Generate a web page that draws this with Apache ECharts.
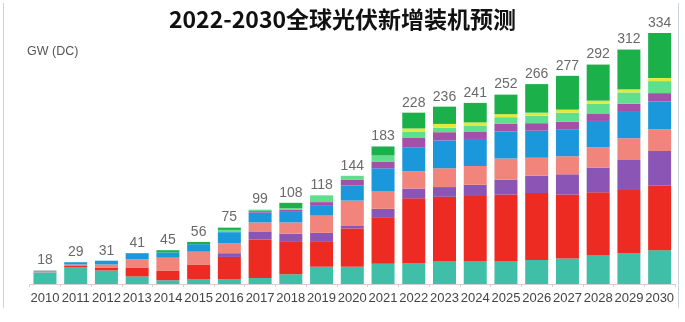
<!DOCTYPE html>
<html>
<head>
<meta charset="utf-8">
<script src="https://cdn.jsdelivr.net/npm/echarts@6/dist/echarts.min.js"></script>
<style>html,body{margin:0;padding:0;background:#fff}#c{width:685px;height:322px}</style>
</head>
<body>
<div id="c"></div>
<script>
var years = ['2010','2011','2012','2013','2014','2015','2016','2017','2018','2019','2020','2021','2022','2023','2024','2025','2026','2027','2028','2029','2030'];
var totals = [18,29,31,41,45,56,75,99,108,118,144,183,228,236,241,252,266,277,292,312,334];
var teal      = [15,22,18,10,5,6,6,8,13,23,23,27,28,30,30,30,32,34,38,41,45];
var red       = [0,2,4,12,13,20,30,51,43,33,51,61,86,86,87,89,89,85,84,84,86];
var purple    = [0,0,0,0,0,0,5,11,11,12,4,12,13,13,15,20,23,27,33,40,46];
var salmon    = [0,2,4,11,17,17,13,12,15,23,33,23,23,25,25,28,24,24,27,29,29];
var blue      = [0,3,5,8,7,10,15,13,15,13,20,31,32,37,36,36,36,36,35,35,37];
var magenta   = [0,0,0,0,0,0,0,2,2,5,8,9,13,11,10,10,10,10,10,11,11];
var lightgreen= [0,0,0,0,0,0,3,2,2,9,5,8,8,6,8,9,10,12,13,15,16];
var yellow    = [0,0,0,0,0,0,0,0,0,0,0,0,4,5,4,4,4,4,4,4,4];
var green     = [0,0,0,0,3,3,3,0,7,0,0,12,21,23,26,26,38,45,48,53,60];
var gray      = [3,0,0,0,0,0,0,0,0,0,0,0,0,0,0,0,0,0,0,0,0];

var layers = [
  ['teal', teal, '#3fbfa8'],
  ['red', red, '#ee2b22'],
  ['purple', purple, '#8a55b5'],
  ['salmon', salmon, '#f2857b'],
  ['blue', blue, '#1b98dc'],
  ['magenta', magenta, '#a44fa9'],
  ['lightgreen', lightgreen, '#5fdf8c'],
  ['yellow', yellow, '#e3e83c'],
  ['green', green, '#1bb04a'],
  ['gray', gray, '#9aa3ab']
];

var series = layers.map(function (l) {
  return {
    name: l[0], type: 'bar', stack: 'all', data: l[1],
    barWidth: 23,
    itemStyle: { color: l[2] },
    emphasis: { disabled: true }
  };
});
series.push({
  name: 'total', type: 'scatter', data: totals, symbolSize: 0,
  silent: true,
  label: {
    show: true, position: 'top', distance: 3,
    color: '#444', fontSize: 14, fontFamily: 'Liberation Sans, Arial, sans-serif',
    formatter: function (p) { return totals[p.dataIndex]; }
  }
});

var chart = echarts.init(document.getElementById('c'), null, { renderer: 'canvas' });
chart.setOption({
  animation: false,
  backgroundColor: '#fff',
  title: {
    text: '2022-2030全球光伏新增装机预测',
    left: 'center', top: 3,
    textStyle: { fontSize: 23, fontWeight: 'bold', color: '#111', fontFamily: 'Noto Sans CJK SC, sans-serif' }
  },
  graphic: [
    { type: 'text', left: 27, top: 45, style: { text: 'GW (DC)', fill: '#555', fontSize: 12.5, fontFamily: 'Liberation Sans, Arial, sans-serif' } },
    { type: 'line', shape: { x1: 3.5, y1: 3, x2: 3.5, y2: 308 }, style: { stroke: '#c9d3dc', lineWidth: 1 } },
    { type: 'line', shape: { x1: 678.5, y1: 3, x2: 678.5, y2: 308 }, style: { stroke: '#c9d3dc', lineWidth: 1 } }
  ],
  grid: { left: 29.6, right: 10, top: 28.5, bottom: 38 },
  xAxis: {
    type: 'category', data: years,
    axisLine: { lineStyle: { color: '#d0d0d0' } },
    axisTick: { show: true, length: 3, lineStyle: { color: '#d0d0d0' } },
    axisLabel: { interval: 0, color: '#444', fontSize: 13, margin: 8, fontFamily: 'Liberation Sans, Arial, sans-serif' }
  },
  yAxis: {
    type: 'value', min: 0, max: 340, show: false,
    splitLine: { show: false }
  },
  series: series
});
</script>
</body>
</html>
